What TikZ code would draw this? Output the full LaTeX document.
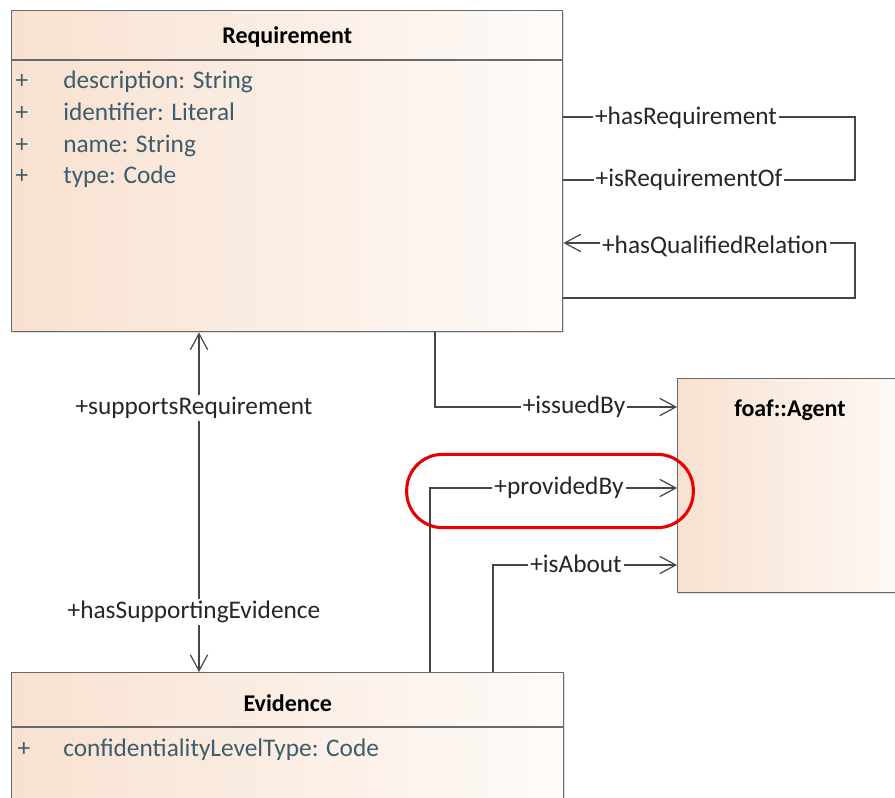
\documentclass[tikz,border=0pt]{standalone}
\usepackage{fontspec}
\setmainfont{Carlito}
\usetikzlibrary{shapes,arrows.meta,positioning,calc,shadows}
\definecolor{umlpeach}{RGB}{248,225,208}
\definecolor{umlwhite}{RGB}{254,251,249}
\definecolor{umlborder}{RGB}{105,105,105}
\definecolor{umlattr}{RGB}{62,92,108}
\definecolor{umlline}{RGB}{70,70,70}
\definecolor{markred}{RGB}{232,0,0}
\newcommand{\umlfont}{\fontsize{19}{22}\selectfont}
\newcommand{\umltitlefont}{\fontsize{18}{21}\selectfont\bfseries}

\begin{document}
\begin{tikzpicture}[x=0.75pt,y=-0.75pt,
    classbox/.style={draw=umlborder, line width=1.1pt, left color=umlpeach, right color=umlwhite,
        anchor=north west, inner sep=0pt,
        drop shadow={shadow xshift=1.2pt, shadow yshift=-1.2pt, opacity=0.25}},
    boxline/.style={draw=umlborder, line width=1.1pt},
    classtitle/.style={font=\umltitlefont, text=black, inner sep=1pt},
    attrplus/.style={font=\umlfont, text=umlattr, anchor=base, inner sep=0pt},
    attrtext/.style={font=\umlfont, text=umlattr, anchor=base west, inner sep=0pt},
    assoc/.style={draw=umlline, line width=0.9pt},
    barb/.tip={Straight Barb[length=12pt, width=13pt, line width=0.9pt]},
    rolelabel/.style={font=\umlfont, text=black!85, fill=white, inner sep=1.5pt},
    highlight/.style={draw=markred, line width=2.3pt, rounded corners=27pt}
]
    \useasboundingbox (0,0) rectangle (895,798);
    \clip (0,0) rectangle (895,798);

    % Classes
    \node[classbox, minimum width=413.25pt, minimum height=240.75pt] (req) at (11,10) {};
    \node[classbox, minimum width=414pt, minimum height=150pt] (evid) at (11,672) {};
    \node[classbox, minimum width=180pt, minimum height=160.5pt] (agent) at (677,378) {};

    % Compartments
    \draw[boxline] ($(req.north west)+(0,50)$) -- ($(req.north east)+(0,50)$);
    \draw[boxline] ($(evid.north west)+(0,55)$) -- ($(evid.north east)+(0,55)$);

    \node[classtitle] (reqtitle) at ($(req.north)+(0,27)$) {Requirement};
    \node[classtitle] (evidtitle) at ($(evid.north)+(0,31)$) {Evidence};
    \node[classtitle] (agenttitle) at ($(agent.north west)+(113,32)$) {foaf::Agent};

    % Attributes
    \foreach \i/\attr in {
        0/description: String,
        1/identifier: Literal,
        2/name: String,
        3/type: Code
    } {
        \node[attrplus] (reqplus\i) at (22,89+31.6*\i) {+};
        \node[attrtext] (reqattr\i) at (63,89+31.6*\i) {\attr};
    }
    \node[attrplus] (evidplus0) at (24,756) {+};
    \node[attrtext] (evidattr0) at (63,756) {confidentialityLevelType: Code};

    % Associations
    \draw[assoc] ($(req.north east)+(0,107)$) -- (855,117) coordinate (selfA)
        -- (855,180) coordinate (selfB) -- ($(req.north east)+(0,170)$);
    \draw[assoc, barb-] ($(req.north east)+(0,233)$) -- (855,243) coordinate (selfC)
        -- (855,298) coordinate (selfD) -- ($(req.north east)+(0,288)$);
    \draw[assoc, barb-barb] ($(req.south west)+(188,0)$) -- ($(evid.north west)+(188,0)$);
    \draw[assoc, -barb] ($(req.south west)+(424,0)$) |- ($(agent.north west)+(0,29)$);
    \draw[assoc, -barb] ($(evid.north west)+(419,0)$) |- ($(agent.north west)+(0,110)$);
    \draw[assoc, -barb] ($(evid.north west)+(482,0)$) |- ($(agent.north west)+(0,187)$);

    % Role names
    \node[rolelabel] (lhasreq) at (686,118) {+hasRequirement};
    \node[rolelabel] (lisreqof) at (689,180) {+isRequirementOf};
    \node[rolelabel] (lqualified) at (715,246) {+hasQualifiedRelation};
    \node[rolelabel] (lsupports) at (194,408) {+supportsRequirement};
    \node[rolelabel] (lsupporting) at (194,612) {+hasSupportingEvidence};
    \node[rolelabel] (lissued) at (574,407) {+issuedBy};
    \node[rolelabel] (lprovided) at (559,488) {+providedBy};
    \node[rolelabel] (labout) at (576,564) {+isAbout};

    % Highlight
    \node[highlight, minimum width=215pt, minimum height=55pt] (mark) at (550,491) {};
\end{tikzpicture}
\end{document}
